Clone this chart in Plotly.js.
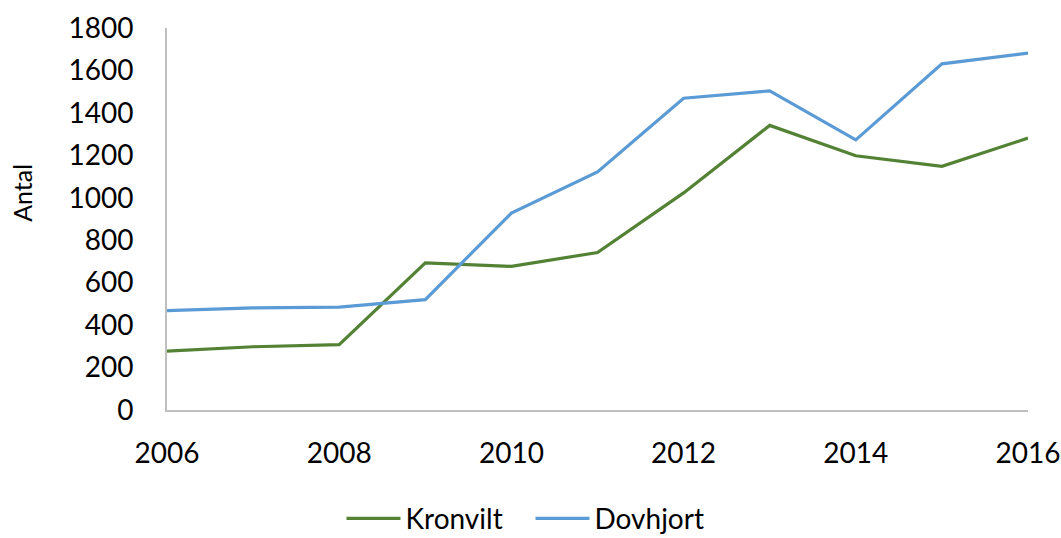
<!DOCTYPE html>
<html><head><meta charset="utf-8">
<script src="https://cdn.plot.ly/plotly-3.0.1.min.js"></script>
<style>html,body{margin:0;padding:0;background:#fff}#chart{width:1061px;height:538px}</style>
</head><body><div id="chart"></div>
<script>
const years = [2006, 2007, 2008, 2009, 2010, 2011, 2012, 2013, 2014, 2015, 2016];
const kronvilt = [277, 298, 308, 693, 677, 742, 1023, 1341, 1198, 1148, 1281];
const dovhjort = [468, 481, 485, 520, 928, 1122, 1469, 1504, 1273, 1631, 1682];
const seriesNames = ['Kronvilt', 'Dovhjort'];
const yTicks = [0, 200, 400, 600, 800, 1000, 1200, 1400, 1600, 1800];
const xTicks = [2006, 2008, 2010, 2012, 2014, 2016];
const yTitle = 'Antal';

const font = 'Lato, "Open Sans", sans-serif';
const traces = [
  {x: years, y: kronvilt, name: seriesNames[0], type: 'scatter', mode: 'lines',
   line: {color: '#548235', width: 3.2}},
  {x: years, y: dovhjort, name: seriesNames[1], type: 'scatter', mode: 'lines',
   line: {color: '#5b9bd5', width: 3.2}}
];
const layout = {
  width: 1061, height: 538,
  margin: {l: 167, r: 33, t: 28, b: 127.5},
  paper_bgcolor: '#fff', plot_bgcolor: '#fff',
  font: {family: font, size: 28, color: '#000'},
  xaxis: {range: [2006, 2016], tickvals: xTicks, ticktext: xTicks.map(String),
    showgrid: false, zeroline: false, showline: true, linecolor: '#bfbfbf', linewidth: 2,
    ticks: '', ticklabelstandoff: 17, tickfont: {family: font, size: 28}},
  yaxis: {range: [0, 1800], tickvals: yTicks, ticktext: yTicks.map(String),
    showgrid: false, zeroline: false, showline: true, linecolor: '#bfbfbf', linewidth: 2,
    ticks: '', ticklabelstandoff: 26, tickfont: {family: font, size: 28}},
  annotations: [{text: yTitle, textangle: -90, xref: 'paper', yref: 'paper',
    x: (22 - 167) / 861, y: (410.5 - 193) / 382.5, xanchor: 'center', yanchor: 'middle',
    showarrow: false, font: {family: font, size: 25, color: '#000'}}],
  showlegend: true,
  legend: {orientation: 'h', x: 0.5, xanchor: 'center', xref: 'container', y: 0.036, yref: 'container', yanchor: 'middle',
    font: {family: font, size: 28}, itemwidth: 54, entrywidth: 120, entrywidthmode: 'pixels'}
};
Plotly.newPlot('chart', traces, layout, {displayModeBar: false, staticPlot: true});
</script></body></html>
